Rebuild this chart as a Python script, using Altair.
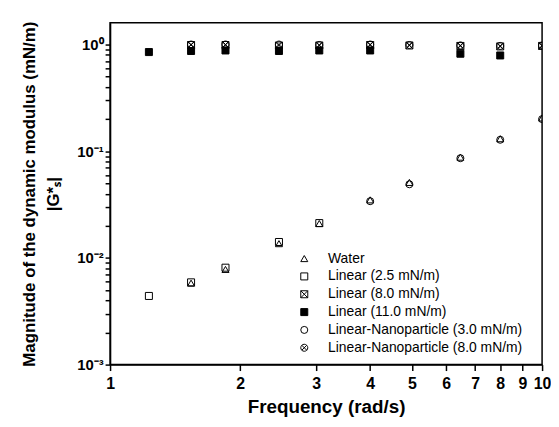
import altair as alt
import pandas as pd

series_names = [
    "Water",
    "Linear (2.5 mN/m)",
    "Linear (8.0 mN/m)",
    "Linear (11.0 mN/m)",
    "Linear-Nanoparticle (3.0 mN/m)",
    "Linear-Nanoparticle (8.0 mN/m)",
]

water_f = [1.54, 1.85, 2.46, 3.05, 4.0, 4.93, 6.47, 8.0, 10.0]
water_v = [0.0058, 0.0078, 0.0136, 0.021, 0.035, 0.051, 0.088, 0.131, 0.205]

lin25_f = [1.23, 1.54, 1.85, 2.46, 3.05]
lin25_v = [0.0044, 0.0059, 0.0081, 0.0141, 0.0212]

lin80_f = [1.54, 1.85, 2.46, 3.05, 4.0, 4.93, 6.47, 8.0, 10.0]
lin80_v = [0.99, 0.99, 0.98, 0.98, 0.99, 0.98, 0.97, 0.96, 0.97]

lin110_f = [1.23, 1.54, 1.85, 2.46, 3.05, 4.0, 6.47, 8.0]
lin110_v = [0.85, 0.87, 0.88, 0.87, 0.88, 0.88, 0.82, 0.79]

np30_f = [4.0, 4.93, 6.47, 8.0, 10.0]
np30_v = [0.034, 0.049, 0.086, 0.128, 0.2]

np80_f = [1.54, 1.85, 2.46, 3.05, 4.0, 4.93, 6.47, 8.0, 10.0]
np80_v = [1.0, 1.0, 1.0, 0.99, 1.0, 0.99, 0.98, 0.97, 0.98]

x_ticks = [1, 2, 3, 4, 5, 6, 7, 8, 9, 10]
y_ticks = [m * 10 ** e for e in (-3, -2, -1) for m in range(1, 10)] + [1]

rows = []
for name, fs, vs in zip(
    series_names,
    [water_f, lin25_f, lin80_f, lin110_f, np30_f, np80_f],
    [water_v, lin25_v, lin80_v, lin110_v, np30_v, np80_v],
):
    for f, v in zip(fs, vs):
        rows.append({"series": name, "freq": f, "G": v})
df = pd.DataFrame(rows)

crossed_square = "M-1,-1H1V1H-1Z M-1,-1L1,1 M-1,1L1,-1"
crossed_circle = "M-1,0A1,1,0,1,0,1,0A1,1,0,1,0,-1,0Z M-0.7,-0.7L0.7,0.7 M-0.7,0.7L0.7,-0.7"
shapes = ["triangle-up", "square", crossed_square, "square", "circle", crossed_circle]
fills = ["transparent", "transparent", "transparent", "black", "transparent", "transparent"]
strokes = ["black"] * 6

y_label_expr = (
    "datum.value == 1 ? '10⁰' : datum.value == 0.1 ? '10⁻¹' : "
    "datum.value == 0.01 ? '10⁻²' : datum.value == 0.001 ? '10⁻³' : ''"
)

chart = (
    alt.Chart(df)
    .mark_point(filled=True, strokeWidth=1, opacity=1, size=50, clip=True)
    .encode(
        x=alt.X(
            "freq:Q",
            scale=alt.Scale(type="log", domain=[1, 10], nice=False),
            axis=alt.Axis(
                values=x_ticks,
                format="d",
                title="Frequency (rad/s)",
                titleFontSize=19,
                titleFontWeight="bold",
                titlePadding=6,
                labelFontSize=16,
                labelFontWeight="bold",
                labelPadding=5,
                tickSize=6,
                labelFlush=False,
            ),
        ),
        y=alt.Y(
            "G:Q",
            scale=alt.Scale(type="log", domain=[0.001, 1.6], nice=False),
            axis=alt.Axis(
                values=y_ticks,
                labelExpr=y_label_expr,
                title=["Magnitude of the dynamic modulus (mN/m)", "|G*ₛ|"],
                titleFontSize=17,
                titleFontWeight="bold",
                titleLineHeight=25,
                titlePadding=14,
                labelFontSize=15,
                labelFontWeight="bold",
                labelPadding=2,
                tickSize=5,
                labelFlush=False,
            ),
        ),
        shape=alt.Shape(
            "series:N",
            scale=alt.Scale(domain=series_names, range=shapes),
            legend=alt.Legend(title=None),
        ),
        fill=alt.Fill(
            "series:N",
            scale=alt.Scale(domain=series_names, range=fills),
            legend=alt.Legend(title=None),
        ),
        stroke=alt.Stroke(
            "series:N",
            scale=alt.Scale(domain=series_names, range=strokes),
            legend=alt.Legend(title=None),
        ),
    )
    .properties(
        width=548,
        height=410,
        autosize=alt.AutoSizeParams(type="fit", contains="padding"),
        padding={"left": 12, "top": 13, "right": 0, "bottom": 0},
    )
    .configure_axis(
        grid=False,
        domainColor="black",
        domainWidth=1.5,
        tickColor="black",
        tickWidth=1.5,
        labelColor="black",
        titleColor="black",
        labelFont="Liberation Sans",
        titleFont="Liberation Sans",
    )
    .configure_view(stroke="black", strokeWidth=1.5)
    .configure_legend(
        orient="none",
        legendX=189,
        legendY=231,
        labelFont="Liberation Sans",
        labelFontSize=14,
        labelColor="black",
        labelLimit=0,
        symbolStrokeWidth=1,
        symbolSize=50,
        rowPadding=4,
        labelOffset=17,
    )
)

chart.save("out.html", embed_options={"renderer": "svg", "actions": False})
